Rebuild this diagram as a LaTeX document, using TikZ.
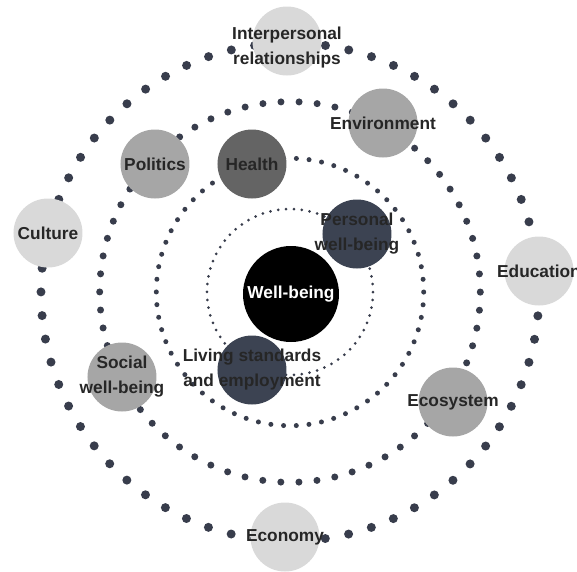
\documentclass[tikz,border=0pt]{standalone}
\usepackage{fontspec}
\setmainfont{Liberation Sans}

\definecolor{dotcol}{HTML}{383D4C}
\definecolor{pale}{HTML}{D9D9D9}
\definecolor{midgray}{HTML}{A6A6A6}
\definecolor{darkgray}{HTML}{646464}
\definecolor{slate}{HTML}{3C4352}
\definecolor{txtcol}{HTML}{262626}

\begin{document}
\begin{tikzpicture}[
   bubble/.style={circle,inner sep=0pt,minimum size=1.725cm},
   txt/.style={text=txtcol,font=\fontsize{12.3}{17.8}\selectfont\bfseries,align=center,inner sep=0pt},
   ring/.style={draw=dotcol,line cap=round}
]
   \useasboundingbox (-7.25,-6.975) rectangle (7.175,7.3);

   % dotted rings, 66 dots each
   \draw[ring,line width=0.075cm,dash pattern=on 0pt off 0.19754cm] (0,0) circle (2.075);
   \draw[ring,line width=0.125cm,dash pattern=on 0pt off 0.31821cm] (0,0) circle (3.3425);
   \draw[ring,line width=0.175cm,dash pattern=on 0pt off 0.45291cm] (0,0) circle (4.7575);
   \draw[ring,line width=0.225cm,dash pattern=on 0pt off 0.59263cm] (0,0) circle (6.225);

   % circles
   \path (0.025,-0.05) node[bubble,fill=black,minimum size=2.4cm] (wb) {};
   \path (-0.075,6.275) node[bubble,fill=pale] (inter) {};
   \path (-6.05,1.475) node[bubble,fill=pale] (cult) {};
   \path (6.225,0.525) node[bubble,fill=pale] (edu) {};
   \path (-0.125,-6.125) node[bubble,fill=pale] (econ) {};
   \path (2.325,4.225) node[bubble,fill=midgray] (env) {};
   \path (-3.375,3.2) node[bubble,fill=midgray] (pol) {};
   \path (-4.2,-2.125) node[bubble,fill=midgray] (soc) {};
   \path (4.075,-2.75) node[bubble,fill=midgray] (eco) {};
   \path (-0.95,3.2) node[bubble,fill=darkgray] (health) {};
   \path (1.675,1.45) node[bubble,fill=slate] (pers) {};
   \path (-0.95,-1.95) node[bubble,fill=slate] (liv) {};

   % texts
   \path (wb) node[txt,text=white] (wbt) {Well-being};
   \path (inter) ++(0,-0.175) node[txt] (intert) {Interpersonal\\relationships};
   \path (cult) node[txt] (cultt) {Culture};
   \path (edu) node[txt] (edut) {Education};
   \path (econ) node[txt] (econt) {Economy};
   \path (env) node[txt] (envt) {Environment};
   \path (pol) node[txt] (polt) {Politics};
   \path (soc) node[txt] (soct) {Social\\well-being};
   \path (eco) node[txt] (ecot) {Ecosystem};
   \path (health) node[txt] (healtht) {Health};
   \path (pers) node[txt] (perst) {Personal\\well-being};
   \path (liv) node[txt] (livt) {Living standards\\and employment};
\end{tikzpicture}
\end{document}
